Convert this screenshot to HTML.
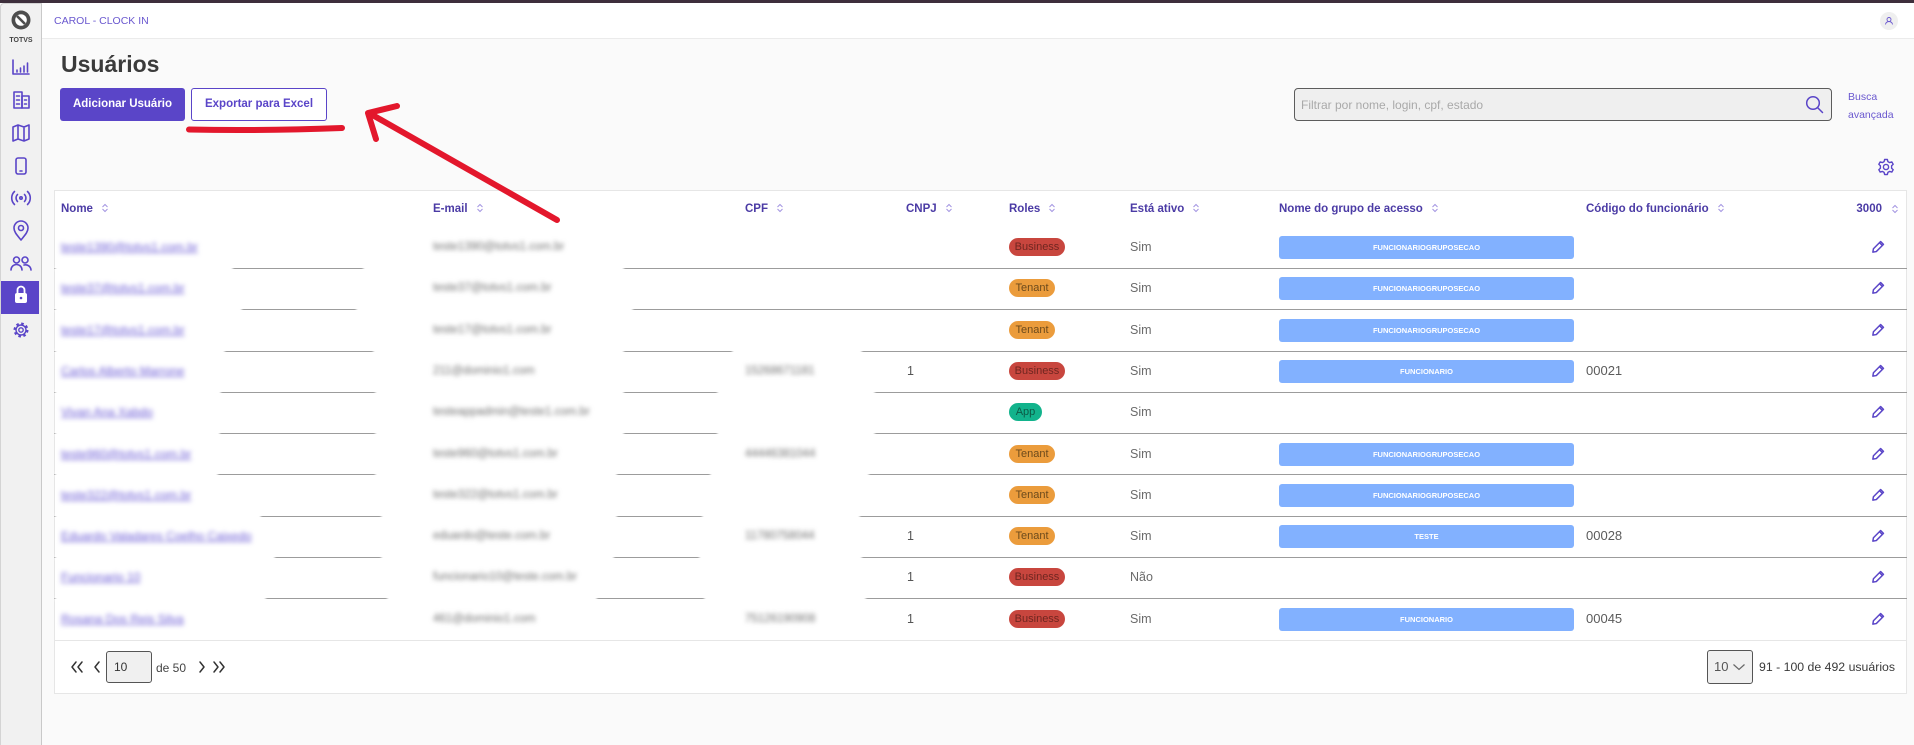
<!DOCTYPE html>
<html><head><meta charset="utf-8">
<style>
*{margin:0;padding:0;box-sizing:border-box}
body{width:1914px;height:745px;overflow:hidden;background:#fafafa;font-family:"Liberation Sans",Arial,sans-serif;position:relative}
.a{position:absolute}
.t{position:absolute;white-space:nowrap}
.h{font-size:11.5px;font-weight:bold;color:#4b3ba5;line-height:16px;top:201px}
.h svg{margin-left:9px;vertical-align:-1px}
.nm{left:61px;font-size:12px;color:#6c5cd6;text-decoration:underline;filter:blur(2.3px);line-height:16px}
.em{left:433px;font-size:11.5px;color:#6f6f6f;filter:blur(2.3px);line-height:16px}
.cp{left:745px;font-size:11.5px;color:#6f6f6f;filter:blur(2.3px);line-height:16px}
.cn{left:907px;font-size:12.5px;color:#555;line-height:16px}
.at{left:1130px;font-size:12.5px;color:#6b6b6b;line-height:16px}
.cd{left:1586px;font-size:13px;color:#5b5b5b;line-height:16px}
.rb{position:absolute;left:1009px;height:18px;border-radius:9px;font-size:11px;line-height:18px;text-align:center}
.bz{width:56px;background:#c8463e;color:#6f2620}
.tn{width:46px;background:#eb9c3c;color:#6c4a1c}
.ap{width:33px;background:#12b38c;color:#0c5a46}
.gr{position:absolute;left:1279px;width:295px;height:23px;background:#82b1ff;border-radius:3px;color:#fff;font-size:7.5px;font-weight:bold;line-height:23px;text-align:center}
.pc{position:absolute;left:1870px;width:16px;height:16px}
.ln{position:absolute;left:54px;width:1853px;height:1px;background:#9c9c9c}
.bl{position:absolute;height:9px;background:#fff;border-radius:5px;filter:blur(1px)}
</style></head><body>

<div class="a" style="left:0;top:0;width:1914px;height:3px;background:#3e2f3c"></div>
<div class="a" style="left:0;top:3px;width:42px;height:742px;background:#f1f1f1;border-right:1px solid #c9c9c9;border-left:1px solid #d4d4d4;border-top:1px solid #d4d4d4;border-top-left-radius:4px"></div>
<div class="a" style="left:42px;top:3px;width:1872px;height:36px;background:#fff;border-bottom:1px solid #ebebeb"></div>

<svg class="a" style="left:0;top:0" width="42" height="745">
  <circle cx="21" cy="20" r="9.5" fill="#4d4d4d"/>
  <circle cx="21" cy="20" r="5.8" fill="#fff"/>
  <line x1="17" y1="16" x2="25" y2="24" stroke="#4d4d4d" stroke-width="2.6"/>
  <text x="21" y="42" font-family="Liberation Sans, sans-serif" font-size="7" font-weight="bold" fill="#444" text-anchor="middle">TOTVS</text>
  <g stroke="#5a45c8" stroke-width="1.6" fill="none" stroke-linecap="round" stroke-linejoin="round">
    <path d="M13 60 V74 H29"/>
    <path d="M17 72 V70 M20.5 72 V68 M24 72 V66 M27.5 72 V63"/>
    <rect x="14" y="92" width="8" height="16"/>
    <rect x="22" y="96" width="7" height="12"/>
    <path d="M16.5 96 H19.5 M16.5 100 H19.5 M16.5 104 H19.5 M24.5 100 H26.5 M24.5 104 H26.5"/>
    <path d="M13 127 L18 125 L24 127 L29 125 V139 L24 141 L18 139 L13 141 Z M18 125 V139 M24 127 V141"/>
    <rect x="16" y="158" width="10" height="16" rx="2"/>
    <path d="M20 171 H22"/>
    <circle cx="21" cy="198" r="1.2"/>
    <path d="M17.5 194.5 A5 5 0 0 0 17.5 201.5 M24.5 194.5 A5 5 0 0 1 24.5 201.5 M14.5 191.5 A9 9 0 0 0 14.5 204.5 M27.5 191.5 A9 9 0 0 1 27.5 204.5"/>
    <path d="M21 240 C17 235 14 232 14 228 A7 7 0 0 1 28 228 C28 232 25 235 21 240 Z"/>
    <circle cx="21" cy="228" r="2.5"/>
    <circle cx="16.5" cy="260" r="3"/>
    <path d="M11 270 A5.5 5.5 0 0 1 22 270"/>
    <circle cx="25" cy="260" r="3"/>
    <path d="M24 265 A5.5 5.5 0 0 1 31 270"/>
  </g>
  <rect x="1" y="281" width="38" height="33" fill="#5a45c8"/>
  <path d="M17.5 293 V290 A3.5 3.5 0 0 1 24.5 290 V293" stroke="#fff" stroke-width="1.8" fill="none"/>
  <rect x="15" y="293" width="12" height="10" rx="2" fill="#fff"/>
  <circle cx="21" cy="298" r="1.3" fill="#5a45c8"/>
  <circle cx="21" cy="330" r="6" fill="none" stroke="#5a45c8" stroke-width="3" stroke-dasharray="2.4 2.31"/>
  <circle cx="21" cy="330" r="5" fill="none" stroke="#5a45c8" stroke-width="1.4"/>
  <circle cx="21" cy="330" r="2.2" fill="none" stroke="#5a45c8" stroke-width="1.4"/>
</svg>

<div class="t" style="left:54px;top:14px;font-size:10.5px;line-height:14px;color:#6a58cf">CAROL - CLOCK IN</div>
<svg class="a" style="left:1880px;top:12px" width="18" height="18">
  <circle cx="9" cy="9" r="9" fill="#efefef"/>
  <circle cx="9" cy="7.5" r="2" fill="none" stroke="#6a58cf" stroke-width="0.9"/>
  <path d="M5.5 12.5 A3.5 3 0 0 1 12.5 12.5" fill="none" stroke="#6a58cf" stroke-width="0.9"/>
</svg>

<div class="t" style="left:61px;top:50px;font-size:23px;line-height:28px;font-weight:bold;color:#3b3b3b">Usuários</div>
<div class="a" style="left:60px;top:88px;width:125px;height:33px;background:#5a45c8;border-radius:3px;color:#fff;font-size:11.5px;font-weight:bold;line-height:33px;text-align:center">Adicionar Usuário</div>
<div class="a" style="left:191px;top:88px;width:136px;height:33px;background:#fff;border:1px solid #5a45c8;border-radius:3px;color:#5a45c8;font-size:11.5px;font-weight:bold;line-height:31px;text-align:center">Exportar para Excel</div>

<div class="a" style="left:1294px;top:88px;width:538px;height:33px;background:#efefef;border:1px solid #5c5c5c;border-radius:4px"></div>
<div class="t" style="left:1301px;top:97px;font-size:12px;line-height:16px;color:#a9a9a9">Filtrar por nome, login, cpf, estado</div>
<svg class="a" style="left:1804px;top:94px" width="22" height="22">
  <circle cx="9" cy="9" r="6.3" fill="none" stroke="#5a45c8" stroke-width="1.5"/>
  <path d="M13.6 13.6 L18.5 18.5" stroke="#5a45c8" stroke-width="1.5" stroke-linecap="round"/>
</svg>
<div class="t" style="left:1848px;top:90px;font-size:10.5px;line-height:14px;color:#6a58cf">Busca</div>
<div class="t" style="left:1848px;top:108px;font-size:10.5px;line-height:14px;color:#6a58cf">avançada</div>

<svg class="a" style="left:1876px;top:157px" width="20" height="20">
  <path d="M8.6 2.5 H11.4 L11.9 4.6 L13.7 5.6 L15.8 4.9 L17.2 7.3 L15.6 8.8 V11.2 L17.2 12.7 L15.8 15.1 L13.7 14.4 L11.9 15.4 L11.4 17.5 H8.6 L8.1 15.4 L6.3 14.4 L4.2 15.1 L2.8 12.7 L4.4 11.2 V8.8 L2.8 7.3 L4.2 4.9 L6.3 5.6 L8.1 4.6 Z" fill="none" stroke="#5a45c8" stroke-width="1.4" stroke-linejoin="round"/>
  <circle cx="10" cy="10" r="2.6" fill="none" stroke="#5a45c8" stroke-width="1.4"/>
</svg>

<div class="a" style="left:54px;top:190px;width:1853px;height:504px;background:#fff;border:1px solid #e6e6e6"></div>

<div class="t h" style="left:61px">Nome<svg width="6" height="10"><path d="M0.5 4 L3 1.5 L5.5 4 M0.5 6 L3 8.5 L5.5 6" stroke="#a395e2" fill="none"/></svg></div>
<div class="t h" style="left:433px">E-mail<svg width="6" height="10"><path d="M0.5 4 L3 1.5 L5.5 4 M0.5 6 L3 8.5 L5.5 6" stroke="#a395e2" fill="none"/></svg></div>
<div class="t h" style="left:745px">CPF<svg width="6" height="10"><path d="M0.5 4 L3 1.5 L5.5 4 M0.5 6 L3 8.5 L5.5 6" stroke="#a395e2" fill="none"/></svg></div>
<div class="t h" style="left:906px">CNPJ<svg width="6" height="10"><path d="M0.5 4 L3 1.5 L5.5 4 M0.5 6 L3 8.5 L5.5 6" stroke="#a395e2" fill="none"/></svg></div>
<div class="t h" style="left:1009px">Roles<svg width="6" height="10"><path d="M0.5 4 L3 1.5 L5.5 4 M0.5 6 L3 8.5 L5.5 6" stroke="#a395e2" fill="none"/></svg></div>
<div class="t h" style="left:1130px">Está ativo<svg width="6" height="10"><path d="M0.5 4 L3 1.5 L5.5 4 M0.5 6 L3 8.5 L5.5 6" stroke="#a395e2" fill="none"/></svg></div>
<div class="t h" style="left:1279px">Nome do grupo de acesso<svg width="6" height="10"><path d="M0.5 4 L3 1.5 L5.5 4 M0.5 6 L3 8.5 L5.5 6" stroke="#a395e2" fill="none"/></svg></div>
<div class="t h" style="left:1586px">Código do funcionário<svg width="6" height="10"><path d="M0.5 4 L3 1.5 L5.5 4 M0.5 6 L3 8.5 L5.5 6" stroke="#a395e2" fill="none"/></svg></div>
<div class="t h" style="right:32px">3000</div>
<svg class="a" style="left:1892px;top:204px" width="6" height="10"><path d="M0.5 4 L3 1.5 L5.5 4 M0.5 6 L3 8.5 L5.5 6" stroke="#a395e2" fill="none"/></svg>

<div class="ln" style="top:268px"></div>
<div class="ln" style="top:309px"></div>
<div class="ln" style="top:351px"></div>
<div class="ln" style="top:392px"></div>
<div class="ln" style="top:433px"></div>
<div class="ln" style="top:474px"></div>
<div class="ln" style="top:516px"></div>
<div class="ln" style="top:557px"></div>
<div class="ln" style="top:598px"></div>
<div class="ln" style="top:640px;background:#e6e6e6"></div>

<div class="bl" style="top:264px;left:55px;width:178px"></div>
<div class="bl" style="top:264px;left:363px;width:261px"></div>
<div class="bl" style="top:305px;left:55px;width:187px"></div>
<div class="bl" style="top:305px;left:356px;width:277px"></div>
<div class="bl" style="top:347px;left:55px;width:170px"></div>
<div class="bl" style="top:347px;left:373px;width:251px"></div>
<div class="bl" style="top:347px;left:732px;width:130px"></div>
<div class="bl" style="top:388px;left:55px;width:166px"></div>
<div class="bl" style="top:388px;left:375px;width:249px"></div>
<div class="bl" style="top:388px;left:717px;width:158px"></div>
<div class="bl" style="top:429px;left:55px;width:165px"></div>
<div class="bl" style="top:429px;left:375px;width:249px"></div>
<div class="bl" style="top:429px;left:717px;width:158px"></div>
<div class="bl" style="top:470px;left:55px;width:163px"></div>
<div class="bl" style="top:470px;left:375px;width:242px"></div>
<div class="bl" style="top:470px;left:710px;width:159px"></div>
<div class="bl" style="top:512px;left:55px;width:206px"></div>
<div class="bl" style="top:512px;left:381px;width:236px"></div>
<div class="bl" style="top:512px;left:702px;width:158px"></div>
<div class="bl" style="top:553px;left:55px;width:220px"></div>
<div class="bl" style="top:553px;left:381px;width:233px"></div>
<div class="bl" style="top:553px;left:699px;width:163px"></div>
<div class="bl" style="top:594px;left:55px;width:211px"></div>
<div class="bl" style="top:594px;left:387px;width:210px"></div>
<div class="bl" style="top:594px;left:704px;width:162px"></div>

<div class="t nm" style="top:239px">teste1390@totvs1.com.br</div>
<div class="t em" style="top:239px">teste1390@totvs1.com.br</div>
<div class="rb bz" style="top:238px">Business</div>
<div class="t at" style="top:239px">Sim</div>
<div class="gr" style="top:235.5px">FUNCIONARIOGRUPOSECAO</div>

<div class="t nm" style="top:280px">teste37@totvs1.com.br</div>
<div class="t em" style="top:280px">teste37@totvs1.com.br</div>
<div class="rb tn" style="top:279px">Tenant</div>
<div class="t at" style="top:280px">Sim</div>
<div class="gr" style="top:276.5px">FUNCIONARIOGRUPOSECAO</div>

<div class="t nm" style="top:322px">teste17@totvs1.com.br</div>
<div class="t em" style="top:322px">teste17@totvs1.com.br</div>
<div class="rb tn" style="top:321px">Tenant</div>
<div class="t at" style="top:322px">Sim</div>
<div class="gr" style="top:318.5px">FUNCIONARIOGRUPOSECAO</div>

<div class="t nm" style="top:363px">Carlos Alberto Marrone</div>
<div class="t em" style="top:363px">211@dominio1.com</div>
<div class="t cp" style="top:363px">15268671181</div>
<div class="t cn" style="top:363px">1</div>
<div class="rb bz" style="top:362px">Business</div>
<div class="t at" style="top:363px">Sim</div>
<div class="gr" style="top:359.5px">FUNCIONARIO</div>
<div class="t cd" style="top:363px">00021</div>

<div class="t nm" style="top:404px">Vivan Ana Xabdo</div>
<div class="t em" style="top:404px">testeappadmin@teste1.com.br</div>
<div class="rb ap" style="top:403px">App</div>
<div class="t at" style="top:404px">Sim</div>

<div class="t nm" style="top:446px">teste960@totvs1.com.br</div>
<div class="t em" style="top:446px">teste960@totvs1.com.br</div>
<div class="t cp" style="top:446px">44446381044</div>
<div class="rb tn" style="top:445px">Tenant</div>
<div class="t at" style="top:446px">Sim</div>
<div class="gr" style="top:442.5px">FUNCIONARIOGRUPOSECAO</div>

<div class="t nm" style="top:487px">teste322@totvs1.com.br</div>
<div class="t em" style="top:487px">teste322@totvs1.com.br</div>
<div class="rb tn" style="top:486px">Tenant</div>
<div class="t at" style="top:487px">Sim</div>
<div class="gr" style="top:483.5px">FUNCIONARIOGRUPOSECAO</div>

<div class="t nm" style="top:528px">Eduardo Valadares Coelho Caixedo</div>
<div class="t em" style="top:528px">eduardo@teste.com.br</div>
<div class="t cp" style="top:528px">11780758044</div>
<div class="t cn" style="top:528px">1</div>
<div class="rb tn" style="top:527px">Tenant</div>
<div class="t at" style="top:528px">Sim</div>
<div class="gr" style="top:524.5px">TESTE</div>
<div class="t cd" style="top:528px">00028</div>

<div class="t nm" style="top:569px">Funcionario 10</div>
<div class="t em" style="top:569px">funcionario10@teste.com.br</div>
<div class="t cn" style="top:569px">1</div>
<div class="rb bz" style="top:568px">Business</div>
<div class="t at" style="top:569px">Não</div>

<div class="t nm" style="top:611px">Rosana Dos Reis Silva</div>
<div class="t em" style="top:611px">461@dominio1.com</div>
<div class="t cp" style="top:611px">75126190908</div>
<div class="t cn" style="top:611px">1</div>
<div class="rb bz" style="top:610px">Business</div>
<div class="t at" style="top:611px">Sim</div>
<div class="gr" style="top:607.5px">FUNCIONARIO</div>
<div class="t cd" style="top:611px">00045</div>

<svg class="pc" style="top:239px" viewBox="0 0 14 14"><path d="M2.5 11.5 L3 8.5 L9.3 2.2 L11.8 4.7 L5.5 11 Z M8.3 3.2 L10.8 5.7" stroke="#5a45c8" stroke-width="1.3" fill="none" stroke-linejoin="round"/></svg>
<svg class="pc" style="top:280px" viewBox="0 0 14 14"><path d="M2.5 11.5 L3 8.5 L9.3 2.2 L11.8 4.7 L5.5 11 Z M8.3 3.2 L10.8 5.7" stroke="#5a45c8" stroke-width="1.3" fill="none" stroke-linejoin="round"/></svg>
<svg class="pc" style="top:322px" viewBox="0 0 14 14"><path d="M2.5 11.5 L3 8.5 L9.3 2.2 L11.8 4.7 L5.5 11 Z M8.3 3.2 L10.8 5.7" stroke="#5a45c8" stroke-width="1.3" fill="none" stroke-linejoin="round"/></svg>
<svg class="pc" style="top:363px" viewBox="0 0 14 14"><path d="M2.5 11.5 L3 8.5 L9.3 2.2 L11.8 4.7 L5.5 11 Z M8.3 3.2 L10.8 5.7" stroke="#5a45c8" stroke-width="1.3" fill="none" stroke-linejoin="round"/></svg>
<svg class="pc" style="top:404px" viewBox="0 0 14 14"><path d="M2.5 11.5 L3 8.5 L9.3 2.2 L11.8 4.7 L5.5 11 Z M8.3 3.2 L10.8 5.7" stroke="#5a45c8" stroke-width="1.3" fill="none" stroke-linejoin="round"/></svg>
<svg class="pc" style="top:446px" viewBox="0 0 14 14"><path d="M2.5 11.5 L3 8.5 L9.3 2.2 L11.8 4.7 L5.5 11 Z M8.3 3.2 L10.8 5.7" stroke="#5a45c8" stroke-width="1.3" fill="none" stroke-linejoin="round"/></svg>
<svg class="pc" style="top:487px" viewBox="0 0 14 14"><path d="M2.5 11.5 L3 8.5 L9.3 2.2 L11.8 4.7 L5.5 11 Z M8.3 3.2 L10.8 5.7" stroke="#5a45c8" stroke-width="1.3" fill="none" stroke-linejoin="round"/></svg>
<svg class="pc" style="top:528px" viewBox="0 0 14 14"><path d="M2.5 11.5 L3 8.5 L9.3 2.2 L11.8 4.7 L5.5 11 Z M8.3 3.2 L10.8 5.7" stroke="#5a45c8" stroke-width="1.3" fill="none" stroke-linejoin="round"/></svg>
<svg class="pc" style="top:569px" viewBox="0 0 14 14"><path d="M2.5 11.5 L3 8.5 L9.3 2.2 L11.8 4.7 L5.5 11 Z M8.3 3.2 L10.8 5.7" stroke="#5a45c8" stroke-width="1.3" fill="none" stroke-linejoin="round"/></svg>
<svg class="pc" style="top:611px" viewBox="0 0 14 14"><path d="M2.5 11.5 L3 8.5 L9.3 2.2 L11.8 4.7 L5.5 11 Z M8.3 3.2 L10.8 5.7" stroke="#5a45c8" stroke-width="1.3" fill="none" stroke-linejoin="round"/></svg>

<svg class="a" style="left:68px;top:660px" width="160" height="16">
  <g stroke="#333" stroke-width="1.5" fill="none" stroke-linecap="round" stroke-linejoin="round">
    <path d="M8 2 L4 7 L8 12 M14 2 L10 7 L14 12"/>
    <path d="M31 2 L27 7 L31 12"/>
    <path d="M132 2 L136 7 L132 12"/>
    <path d="M146 2 L150 7 L146 12 M152 2 L156 7 L152 12"/>
  </g>
</svg>
<div class="a" style="left:106px;top:651px;width:46px;height:32px;background:#f0f0f0;border:1px solid #555;border-radius:3px"></div>
<div class="t" style="left:114px;top:659px;font-size:12px;line-height:16px;color:#333">10</div>
<div class="t" style="left:156px;top:660px;font-size:12px;line-height:16px;color:#444">de 50</div>

<div class="a" style="left:1707px;top:650px;width:46px;height:34px;background:#f0f0f0;border:1px solid #555;border-radius:3px"></div>
<div class="t" style="left:1714px;top:659px;font-size:13px;line-height:16px;color:#555">10</div>
<svg class="a" style="left:1732px;top:662px" width="14" height="10"><path d="M1.5 2.5 L7 7.5 L12.5 2.5" stroke="#666" stroke-width="1.2" fill="none"/></svg>
<div class="t" style="left:1759px;top:659px;font-size:12.3px;line-height:16px;color:#3a3a3a">91 - 100 de 492 usuários</div>

<svg class="a" style="left:0;top:0" width="1914" height="745">
  <g stroke="#e3172c" stroke-width="6" stroke-linecap="round" stroke-linejoin="round" fill="none">
    <path d="M557 220 L369 113"/>
    <path d="M397 106 L368 113 L376 139"/>
    <path d="M189 129.5 Q262 131 342 128"/>
  </g>
</svg>

</body></html>
